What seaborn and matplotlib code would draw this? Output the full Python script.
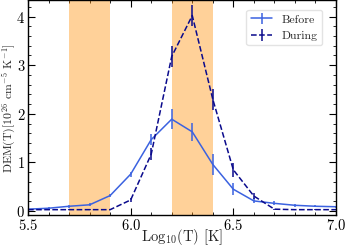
import numpy as np
import matplotlib
matplotlib.use("Agg")
import matplotlib.pyplot as plt
import seaborn as sns
from matplotlib.ticker import MultipleLocator

# --- dados ---
log_t = [5.5, 5.6, 5.7, 5.8, 5.9, 6.0, 6.1, 6.2, 6.3, 6.4, 6.5, 6.6, 6.7, 6.8, 6.9, 7.0]
dem_before = [0.04, 0.06, 0.10, 0.13, 0.32, 0.76, 1.47, 1.89, 1.63, 0.96, 0.45, 0.21, 0.16, 0.12, 0.10, 0.09]
err_before = [0.02, 0.03, 0.03, 0.03, 0.03, 0.05, 0.12, 0.20, 0.18, 0.22, 0.12, 0.05, 0.04, 0.03, 0.02, 0.02]
dem_during = [0.03, 0.03, 0.03, 0.03, 0.03, 0.23, 1.17, 3.18, 4.02, 2.30, 0.85, 0.31, 0.04, 0.03, 0.03, 0.03]
err_during = [0.01, 0.01, 0.01, 0.01, 0.01, 0.05, 0.12, 0.22, 0.21, 0.22, 0.14, 0.06, 0.01, 0.01, 0.01, 0.01]
bands = [(5.7, 5.9), (6.2, 6.4)]

sns.set_theme(style="ticks")
plt.rcParams['font.family'] = ['serif']
plt.rcParams['font.serif'] = ['cmr10', 'DejaVu Serif']
plt.rcParams['mathtext.fontset'] = 'cm'
plt.rcParams['axes.unicode_minus'] = False
plt.rcParams['axes.formatter.use_mathtext'] = True

fig = plt.figure(figsize=(3.46, 2.48), dpi=100)
ax = fig.add_axes([0.081, 0.133, 0.890, 0.865])

for lo, hi in bands:
    ax.axvspan(lo, hi, color='darkorange', alpha=0.4, lw=0)

ax.errorbar(log_t, dem_before, yerr=err_before, color='#3b62e0', lw=1.1,
            elinewidth=1.1, label='Before')
ax.errorbar(log_t, dem_during, yerr=err_during, color='#0a0a8c', lw=1.1,
            ls='--', elinewidth=1.1, label='During')

ax.set_xlim(5.5, 7.0)
ax.set_ylim(-0.08, 4.33)
ax.xaxis.set_major_locator(MultipleLocator(0.5))
ax.xaxis.set_minor_locator(MultipleLocator(0.1))
ax.yaxis.set_major_locator(MultipleLocator(1))
ax.yaxis.set_minor_locator(MultipleLocator(0.2))
ax.tick_params(which='both', direction='in', top=True, right=True, labelsize=10.5, colors='black')
ax.tick_params(which='major', length=5, width=0.8, pad=2)
ax.tick_params(which='minor', length=2.5, width=0.6)
for s in ax.spines.values():
    s.set_color('black')
    s.set_linewidth(1.0)

ax.set_xlabel('Log$_{10}$(T) [K]', fontsize=10.5)
ax.set_ylabel('DEM(T)[10$^{26}$ cm$^{-5}$ K$^{-1}$]', fontsize=8.5)
ax.xaxis.set_label_coords(0.5, -0.054)
ax.yaxis.set_label_coords(-0.034, 0.5)
ax.legend(loc='upper right', fontsize=8.5, frameon=True, edgecolor='#dddddd',
          fancybox=True, handlelength=1.8, bbox_to_anchor=(0.975, 0.985))

fig.savefig('out.png', dpi=100)
